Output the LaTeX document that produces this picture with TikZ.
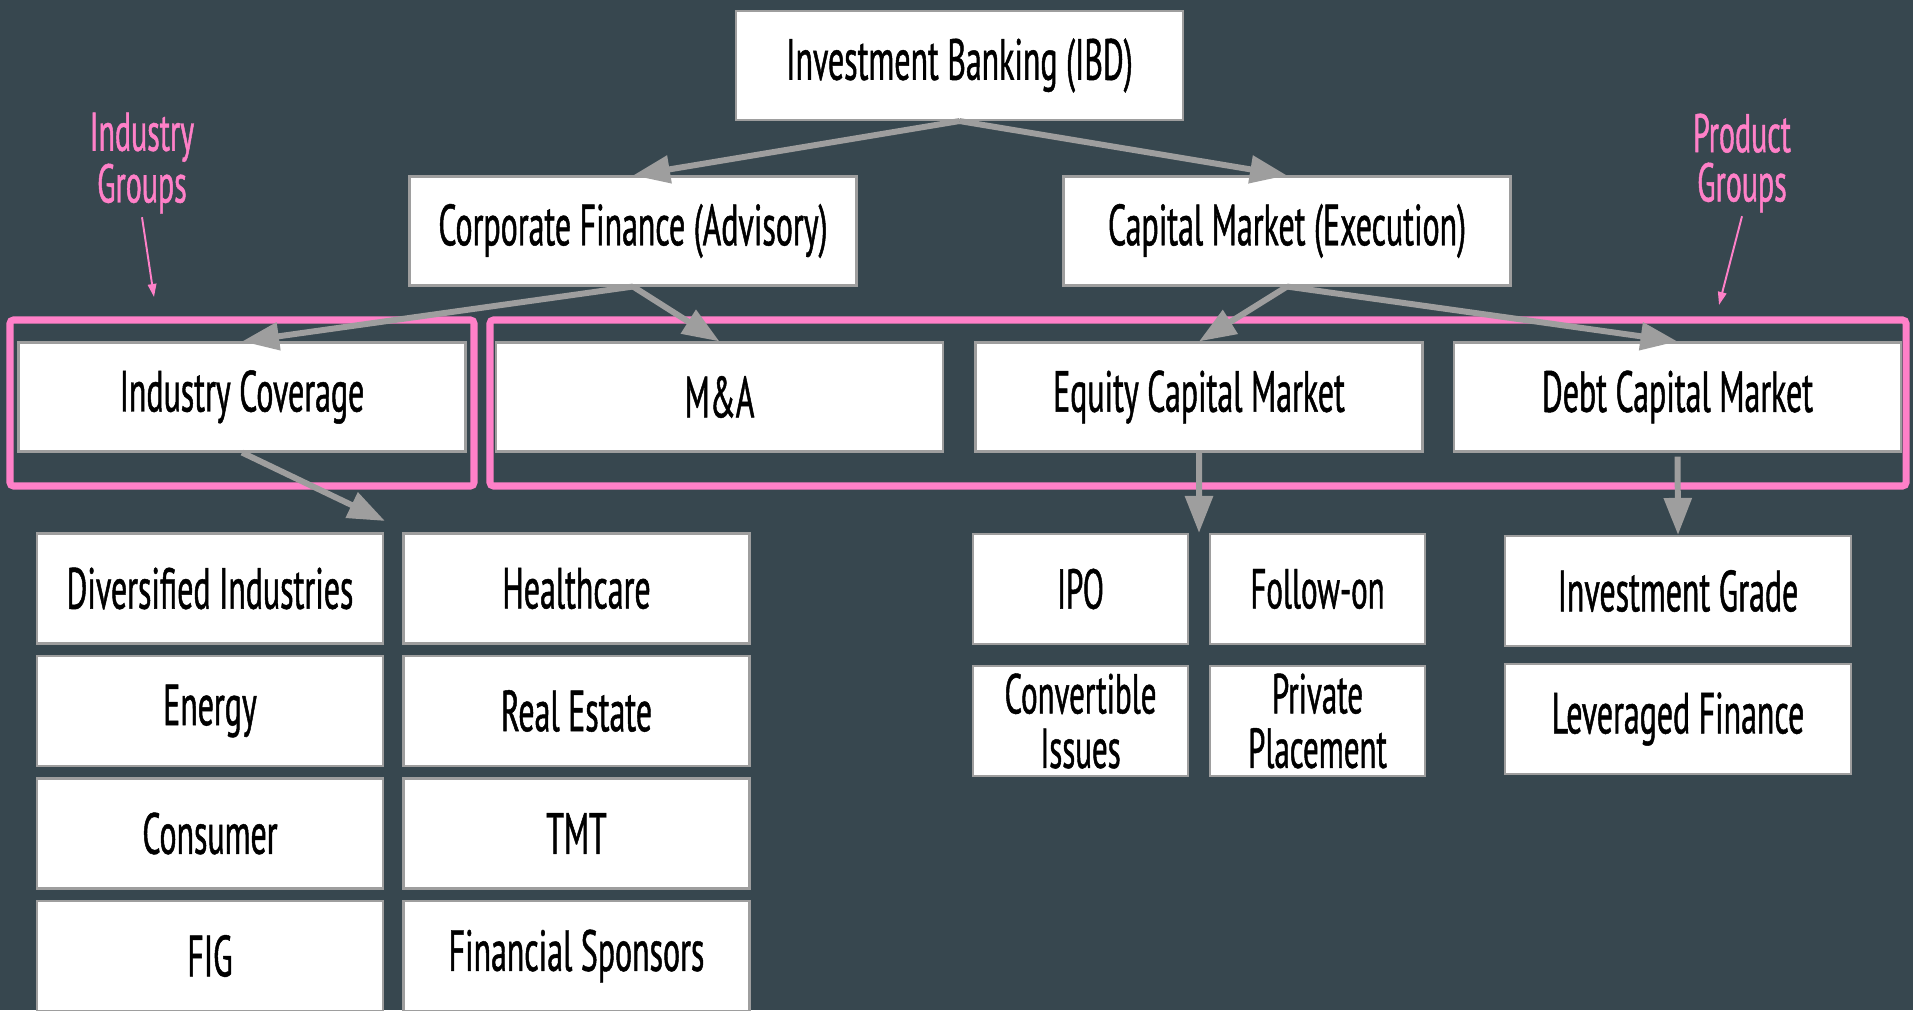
\documentclass[tikz,border=0pt]{standalone}
\usepackage{fontspec}
\setmainfont[FakeStretch=0.55, FakeBold=0.8]{PT Sans}
\usepackage{tikz}
\usetikzlibrary{arrows.meta, positioning, calc}
\definecolor{bgslate}{HTML}{37474F}
\definecolor{boxline}{HTML}{9E9E9E}
\definecolor{arrowgray}{HTML}{9E9E9E}
\definecolor{grppink}{HTML}{FF80C8}

\begin{document}
\begin{tikzpicture}[
  box/.style={draw=boxline, fill=white, line width=1.2pt, minimum width=8.94cm, minimum height=2.18cm, align=center, inner sep=0pt, font=\fontsize{33}{27.5}\selectfont},
  sub/.style={box, minimum width=6.92cm, minimum height=2.2cm},
  small/.style={box, minimum width=4.3cm, minimum height=2.2cm, font=\fontsize{32}{31}\selectfont},
  arr/.style={-{Triangle[length=0.74cm, width=0.54cm]}, line width=3.4pt, arrowgray},
  grp/.style={draw=grppink, line width=4pt, rounded corners=2pt},
  note/.style={text=grppink, align=center, inner sep=2pt, font=\fontsize{31}{28}\selectfont},
  pin/.style={-{Triangle[length=0.26cm, width=0.17cm]}, line width=1.1pt, grppink}
]

  % background
  \fill[bgslate] (0,0) rectangle (38.26,20.2);
  \useasboundingbox (0,0) rectangle (38.26,20.2);

  % top levels
  \node[box] (ibd) at (19.19, 18.89) {Investment Banking (IBD)};
  \node[box] (corp) at (12.66, 15.58) {Corporate Finance (Advisory)};
  \node[box] (capm) at (25.74, 15.58) {Capital Market (Execution)};

  % groups
  \node[box] (cov) at (4.84, 12.26) {Industry Coverage};
  \node[box] (mna) at (14.39, 12.26) {M\&A};
  \node[box] (ecm) at (23.98, 12.26) {Equity Capital Market};
  \node[box] (dcm) at (33.55, 12.26) {Debt Capital Market};

  % industry coverage sectors
  \node[sub] (div) at (4.2, 8.43) {Diversified Industries};
  \node[sub] (hc) at (11.53, 8.43) {Healthcare};
  \node[sub] (ener) at (4.2, 5.98) {Energy};
  \node[sub] (reest) at (11.53, 5.98) {Real Estate};
  \node[sub] (cons) at (4.2, 3.53) {Consumer};
  \node[sub] (tmt) at (11.53, 3.53) {TMT};
  \node[sub] (fig) at (4.2, 1.08) {FIG};
  \node[sub] (spons) at (11.53, 1.08) {Financial Sponsors};

  % ECM products
  \node[small] (ipo) at (21.61, 8.42) {IPO};
  \node[small] (follow) at (26.35, 8.42) {Follow-on};
  \node[small] (conv) at (21.61, 5.78) {Convertible\\Issues};
  \node[small] (priv) at (26.35, 5.78) {Private\\Placement};

  % DCM products
  \node[sub] (ig) at (33.56, 8.38) {Investment Grade};
  \node[sub] (lev) at (33.56, 5.82) {Leveraged Finance};

  % pink frames
  \draw[grp] (0.2,10.48) rectangle (9.48,13.8);
  \draw[grp] (9.8,10.48) rectangle (38.12,13.8);

  % hierarchy arrows
  \draw[arr] (ibd.south) -- (corp.north);
  \draw[arr] (ibd.south) -- (capm.north);
  \draw[arr] (corp.south) -- (cov.north);
  \draw[arr] (corp.south) -- (mna.north);
  \draw[arr] (capm.south) -- (ecm.north);
  \draw[arr] (capm.south) -- (dcm.north);

  \coordinate (sectors) at (7.7, 9.78);
  \draw[arr] (cov.south) -- (sectors);
  \coordinate (ecmtip) at ($(ipo.north east)!0.5!(follow.north west)$);
  \draw[arr] (ecm.south) -- (ecmtip);
  \draw[arr, shorten <=0.08cm] (dcm.south) -- (ig.north);

  % labels
  \node[note] (indnote) at (2.84, 16.94) {Industry\\Groups};
  \coordinate (indpt) at (3.08, 14.26);
  \draw[pin] (indnote.south) -- (indpt);

  \node[note] (prodnote) at (34.84, 16.94) {Product\\Groups};
  \coordinate (prodpt) at (34.38, 14.1);
  \draw[pin] (prodnote.south) -- (prodpt);

\end{tikzpicture}
\end{document}
